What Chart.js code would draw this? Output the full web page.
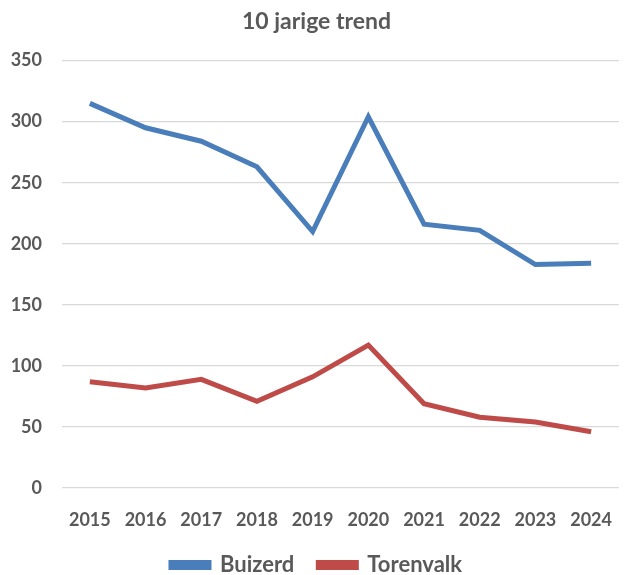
<!DOCTYPE html>
<html lang="nl">
<head>
    <meta charset="UTF-8">
    <title>10 jarige trend</title>
    <script src="https://cdn.jsdelivr.net/npm/chart.js"></script>
    <style>
        body { margin: 0; background: #fff; }
        #wrap { width: 633px; height: 575px; }
    </style>
</head>
<body>
    <div id="wrap"><canvas id="trendChart"></canvas></div>

    <script>
        const years = ['2015', '2016', '2017', '2018', '2019', '2020', '2021', '2022', '2023', '2024'];
        const buizerd = [315, 295, 284, 263, 210, 304, 216, 211, 183, 184];
        const torenvalk = [87, 82, 89, 71, 91, 117, 69, 58, 54, 46];
        const yTicks = [0, 50, 100, 150, 200, 250, 300, 350];

        const textColor = '#595959';
        const fontFamily = 'Lato, "Open Sans", sans-serif';

        const ctx = document.getElementById('trendChart').getContext('2d');
        new Chart(ctx, {
            type: 'line',
            data: {
                labels: years,
                datasets: [{
                    label: 'Buizerd',
                    data: buizerd,
                    borderColor: '#4a7ebb',
                    backgroundColor: '#4a7ebb',
                    borderWidth: 5,
                    pointRadius: 0,
                    tension: 0
                }, {
                    label: 'Torenvalk',
                    data: torenvalk,
                    borderColor: '#be4b48',
                    backgroundColor: '#be4b48',
                    borderWidth: 5,
                    pointRadius: 0,
                    tension: 0
                }]
            },
            options: {
                responsive: true,
                maintainAspectRatio: false,
                animation: false,
                layout: { padding: 0 },
                plugins: {
                    title: {
                        display: true,
                        text: '10 jarige trend',
                        color: textColor,
                        font: { family: fontFamily, size: 23, weight: 'bold' },
                        padding: { top: 8, bottom: 25 }
                    },
                    legend: {
                        position: 'bottom',
                        maxHeight: 45,
                        labels: {
                            color: textColor,
                            font: { family: fontFamily, size: 22, weight: 'bold' },
                            boxWidth: 38,
                            boxHeight: 5,
                            padding: 24
                        }
                    },
                    tooltip: { enabled: false }
                },
                scales: {
                    x: {
                        offset: true,
                        grid: { display: false, drawTicks: false },
                        border: { display: false },
                        afterFit: function(scale) { scale.height = 42; },
                        ticks: {
                            color: textColor,
                            font: { family: fontFamily, size: 18, weight: 'bold' },
                            padding: 21,
                            maxRotation: 0
                        }
                    },
                    y: {
                        min: 0,
                        max: 350,
                        afterBuildTicks: function(scale) {
                            scale.ticks = yTicks.map(v => ({ value: v }));
                        },
                        afterFit: function(scale) { scale.width = 62; },
                        grid: { color: '#d9d9d9', lineWidth: 1.2, drawTicks: false },
                        border: { display: false },
                        ticks: {
                            color: textColor,
                            font: { family: fontFamily, size: 18, weight: 'bold' },
                            padding: 20
                        }
                    }
                }
            }
        });
    </script>
</body>
</html>
